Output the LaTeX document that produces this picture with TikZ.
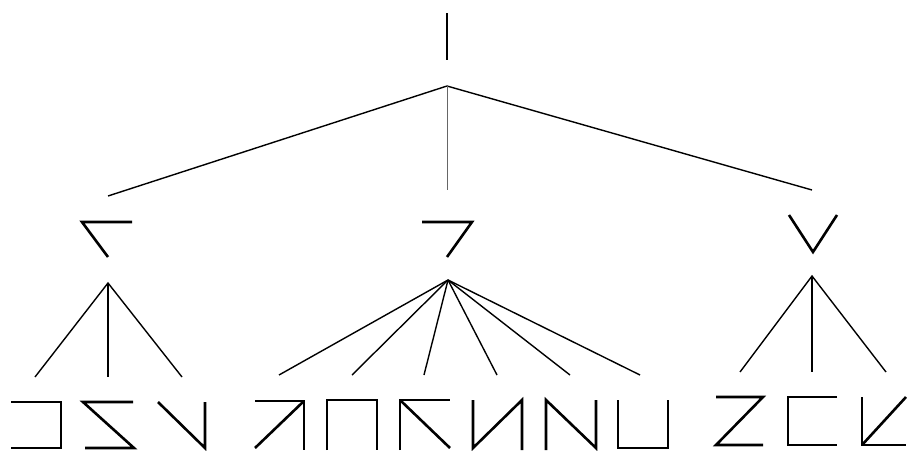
\documentclass[tikz,border=0pt]{standalone}
\begin{document}
\begin{tikzpicture}[x=1pt,y=-1pt,
  glyph/.style={line width=2.6pt,line cap=butt,line join=miter},
  edge/.style={line width=1.4pt},
  thinedge/.style={line width=0.8pt,black!60}]
\useasboundingbox (0,0) rectangle (908,450);
% root glyph
\draw[line width=2pt] (447,13) -- (447,60);
% root fan
\coordinate (ra) at (447,86);
\coordinate (c1) at (108,196);
\coordinate (c2) at (447,190);
\coordinate (c3) at (812,190);
\draw[edge] (c1) -- (ra) -- (c3);
\draw[thinedge] (ra) -- (c2);
% child glyphs
\draw[glyph] (132,222) -- (82,222) -- (108,257);
\draw[glyph] (422,222) -- (472,222) -- (447,257);
\draw[glyph] (789,215) -- (813,252) -- (837,215);
% left fan
\coordinate (la) at (108,283);
\coordinate (l1) at (35,377);
\coordinate (l2) at (108,377);
\coordinate (l3) at (182,377);
\draw[edge] (l1) -- (la) -- (l3);
\draw[edge] (la) -- (l2);
% middle fan
\coordinate (ma) at (448,280);
\foreach \x [count=\i] in {279,352,424,497,570,640}
  \coordinate (m\i) at (\x,375);
\foreach \i in {1,...,6} \draw[edge] (ma) -- (m\i);
% right fan
\coordinate (sa) at (812,276);
\coordinate (s1) at (740,372);
\coordinate (s2) at (812,372);
\coordinate (s3) at (886,372);
\draw[edge] (s1) -- (sa) -- (s3);
\draw[edge] (sa) -- (s2);
% leaves left group
\draw[glyph] (11,402) -- (61,402) -- (61,448) -- (11,448);
\draw[glyph] (133,402) -- (83,402) -- (134,448) -- (85,448);
\draw[glyph] (158,402) -- (205,448) -- (205,402);
% leaves middle group
\draw[glyph] (255,401) -- (304,401) -- (304,450);
\draw[glyph] (304,401) -- (255,448);
\draw[glyph] (327,450) -- (327,400) -- (377,400) -- (377,450);
\draw[glyph] (400,450) -- (400,400) -- (450,400);
\draw[glyph] (400,400) -- (450,448);
\draw[glyph] (473,400) -- (473,448) -- (522,400) -- (522,450);
\draw[glyph] (546,450) -- (546,400) -- (596,448) -- (596,400);
\draw[glyph] (618,400) -- (618,448) -- (668,448) -- (668,400);
% leaves right group
\draw[glyph] (716,397) -- (763,397) -- (716,445) -- (763,445);
\draw[glyph] (837,397) -- (788,397) -- (788,445) -- (837,445);
\draw[glyph] (862,397) -- (862,445) -- (906,445);
\draw[glyph] (862,445) -- (906,397);
\end{tikzpicture}
\end{document}
